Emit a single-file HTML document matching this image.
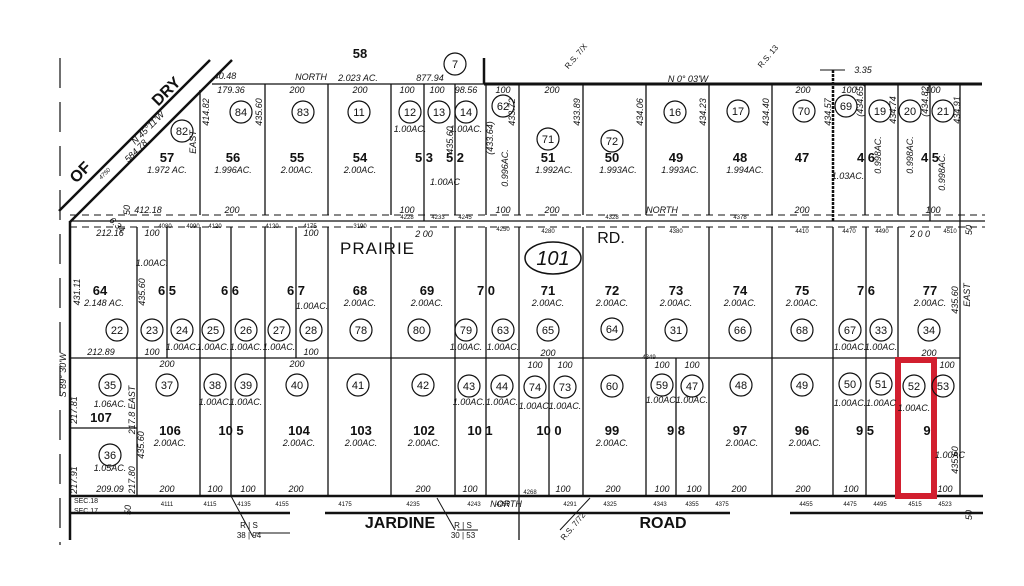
<!DOCTYPE html>
<html><head><meta charset="utf-8">
<style>
html,body{margin:0;padding:0;background:#fff;}
svg{display:block;}
text{font-family:"Liberation Sans",sans-serif;fill:#111;}
.n{font-size:13px;font-weight:bold;text-anchor:middle;}
.a{font-size:9px;font-style:italic;text-anchor:middle;}
.s{font-size:9px;font-style:italic;text-anchor:middle;}
.t{font-size:6px;text-anchor:middle;}
.c{font-size:11px;text-anchor:middle;}
.r{font-size:16px;font-weight:bold;text-anchor:middle;}
</style></head><body>
<svg width="1024" height="586" viewBox="0 0 1024 586" xmlns="http://www.w3.org/2000/svg">
<rect width="1024" height="586" fill="#fff"/>
<g stroke="#111" fill="none">
<line x1="60" y1="58" x2="60" y2="545" stroke-width="1.2" stroke-dasharray="30,14"/>
<line x1="59" y1="211" x2="210" y2="60" stroke-width="2.5"/>
<line x1="70" y1="222" x2="232" y2="60" stroke-width="2.5"/>
<line x1="212" y1="84" x2="484" y2="84" stroke-width="1.2"/>
<line x1="484" y1="84" x2="982" y2="84" stroke-width="3"/>
<line x1="484" y1="58" x2="484" y2="84" stroke-width="2.5"/>
<line x1="820" y1="70" x2="845" y2="70" stroke-width="1"/>
<line x1="70" y1="215" x2="985" y2="215" stroke-width="1" stroke-dasharray="7,5"/>
<line x1="70" y1="221" x2="985" y2="221" stroke-width="1.3"/>
<line x1="70" y1="227" x2="985" y2="227" stroke-width="1" stroke-dasharray="7,5"/>
<line x1="70" y1="221" x2="70" y2="540" stroke-width="2.5"/>
<line x1="960" y1="84" x2="960" y2="496" stroke-width="1.3"/>
<g stroke-width="1.3">
<line x1="200" y1="90" x2="200" y2="215"/>
<line x1="265" y1="84" x2="265" y2="215"/>
<line x1="328" y1="84" x2="328" y2="215"/>
<line x1="391" y1="84" x2="391" y2="215"/>
<line x1="424" y1="84" x2="424" y2="221"/>
<line x1="455" y1="84" x2="455" y2="215"/>
<line x1="486" y1="84" x2="486" y2="215"/>
<line x1="519" y1="84" x2="519" y2="215"/>
<line x1="583" y1="84" x2="583" y2="215"/>
<line x1="646" y1="84" x2="646" y2="215"/>
<line x1="709" y1="84" x2="709" y2="215"/>
<line x1="772" y1="84" x2="772" y2="215"/>
<line x1="833" y1="70" x2="833" y2="221" stroke-width="2.5" stroke-dasharray="3,1"/>
<line x1="865" y1="84" x2="865" y2="215"/>
<line x1="898" y1="84" x2="898" y2="215"/>
<line x1="930" y1="84" x2="930" y2="221"/>
</g>
<g stroke-width="1.3">
<line x1="137" y1="227" x2="137" y2="496"/>
<line x1="167" y1="227" x2="167" y2="358"/>
<line x1="200" y1="227" x2="200" y2="496"/>
<line x1="231" y1="227" x2="231" y2="496"/>
<line x1="265" y1="227" x2="265" y2="496"/>
<line x1="296" y1="227" x2="296" y2="358"/>
<line x1="328" y1="227" x2="328" y2="496"/>
<line x1="391" y1="227" x2="391" y2="496"/>
<line x1="455" y1="227" x2="455" y2="496"/>
<line x1="486" y1="227" x2="486" y2="496"/>
<line x1="519" y1="227" x2="519" y2="540"/>
<line x1="549" y1="358" x2="549" y2="496"/>
<line x1="583" y1="227" x2="583" y2="496"/>
<line x1="646" y1="227" x2="646" y2="496"/>
<line x1="676" y1="358" x2="676" y2="496"/>
<line x1="709" y1="227" x2="709" y2="496"/>
<line x1="772" y1="227" x2="772" y2="496"/>
<line x1="833" y1="227" x2="833" y2="496"/>
<line x1="866" y1="227" x2="866" y2="496"/>
<line x1="898" y1="227" x2="898" y2="358"/>
</g>
<line x1="70" y1="358" x2="960" y2="358" stroke-width="1.3"/>
<line x1="70" y1="428" x2="137" y2="428" stroke-width="1.2"/>
<line x1="70" y1="496" x2="983" y2="496" stroke-width="2.5"/>
<line x1="70" y1="513" x2="290" y2="513" stroke-width="2.5"/>
<line x1="325" y1="513" x2="730" y2="513" stroke-width="2.5"/>
<line x1="790" y1="513" x2="983" y2="513" stroke-width="2.5"/>
<line x1="231" y1="496" x2="253" y2="537" stroke-width="1"/>
<line x1="437" y1="498" x2="455" y2="530" stroke-width="1"/>
<line x1="590" y1="498" x2="560" y2="530" stroke-width="1"/>
<line x1="256" y1="533" x2="290" y2="533" stroke-width="1"/>
<line x1="457" y1="530" x2="478" y2="530" stroke-width="1"/>
<ellipse cx="553" cy="258" rx="28" ry="16" stroke-width="1.5"/>
<rect x="898" y="360" width="36" height="136" stroke="#d21f2f" stroke-width="6"/>
</g>
<g fill="none" stroke="#111" stroke-width="1.2">
<circle cx="241" cy="112" r="11"/><circle cx="303" cy="112" r="11"/><circle cx="359" cy="112" r="11"/>
<circle cx="410" cy="112" r="11"/><circle cx="439" cy="112" r="11"/><circle cx="466" cy="112" r="11"/>
<circle cx="503" cy="106" r="11"/><circle cx="455" cy="64" r="11"/><circle cx="182" cy="131" r="11"/>
<circle cx="548" cy="139" r="11"/><circle cx="612" cy="141" r="11"/><circle cx="675" cy="112" r="11"/>
<circle cx="738" cy="111" r="11"/><circle cx="804" cy="111" r="11"/><circle cx="846" cy="106" r="11"/>
<circle cx="880" cy="111" r="11"/><circle cx="910" cy="111" r="11"/><circle cx="943" cy="111" r="11"/>
<circle cx="117" cy="330" r="11"/><circle cx="152" cy="330" r="11"/><circle cx="182" cy="330" r="11"/>
<circle cx="213" cy="330" r="11"/><circle cx="246" cy="330" r="11"/><circle cx="279" cy="330" r="11"/>
<circle cx="311" cy="330" r="11"/><circle cx="361" cy="330" r="11"/><circle cx="419" cy="330" r="11"/>
<circle cx="466" cy="330" r="11"/><circle cx="503" cy="330" r="11"/><circle cx="548" cy="330" r="11"/>
<circle cx="612" cy="329" r="11"/><circle cx="676" cy="330" r="11"/><circle cx="740" cy="330" r="11"/>
<circle cx="802" cy="330" r="11"/><circle cx="850" cy="330" r="11"/><circle cx="881" cy="330" r="11"/>
<circle cx="929" cy="330" r="11"/>
<circle cx="110" cy="385" r="11"/><circle cx="167" cy="385" r="11"/><circle cx="215" cy="385" r="11"/>
<circle cx="246" cy="385" r="11"/><circle cx="297" cy="385" r="11"/><circle cx="358" cy="385" r="11"/>
<circle cx="423" cy="385" r="11"/><circle cx="469" cy="386" r="11"/><circle cx="502" cy="386" r="11"/>
<circle cx="535" cy="387" r="11"/><circle cx="565" cy="387" r="11"/><circle cx="612" cy="386" r="11"/>
<circle cx="662" cy="385" r="11"/><circle cx="692" cy="386" r="11"/><circle cx="741" cy="385" r="11"/>
<circle cx="802" cy="385" r="11"/><circle cx="850" cy="384" r="11"/><circle cx="881" cy="384" r="11"/>
<circle cx="914" cy="386" r="11"/><circle cx="943" cy="386" r="11"/><circle cx="110" cy="455" r="11"/>
</g>
<g class="c">
<text x="241" y="116" class="c">84</text><text x="303" y="116" class="c">83</text><text x="359" y="116" class="c">11</text>
<text x="410" y="116" class="c">12</text><text x="439" y="116" class="c">13</text><text x="466" y="116" class="c">14</text>
<text x="503" y="110" class="c">62</text><text x="455" y="68" class="c">7</text><text x="182" y="135" class="c">82</text>
<text x="548" y="143" class="c">71</text><text x="612" y="145" class="c">72</text><text x="675" y="116" class="c">16</text>
<text x="738" y="115" class="c">17</text><text x="804" y="115" class="c">70</text><text x="846" y="110" class="c">69</text>
<text x="880" y="115" class="c">19</text><text x="910" y="115" class="c">20</text><text x="943" y="115" class="c">21</text>
<text x="117" y="334" class="c">22</text><text x="152" y="334" class="c">23</text><text x="182" y="334" class="c">24</text>
<text x="213" y="334" class="c">25</text><text x="246" y="334" class="c">26</text><text x="279" y="334" class="c">27</text>
<text x="311" y="334" class="c">28</text><text x="361" y="334" class="c">78</text><text x="419" y="334" class="c">80</text>
<text x="466" y="334" class="c">79</text><text x="503" y="334" class="c">63</text><text x="548" y="334" class="c">65</text>
<text x="612" y="333" class="c">64</text><text x="676" y="334" class="c">31</text><text x="740" y="334" class="c">66</text>
<text x="802" y="334" class="c">68</text><text x="850" y="334" class="c">67</text><text x="881" y="334" class="c">33</text>
<text x="929" y="334" class="c">34</text>
<text x="110" y="389" class="c">35</text><text x="167" y="389" class="c">37</text><text x="215" y="389" class="c">38</text>
<text x="246" y="389" class="c">39</text><text x="297" y="389" class="c">40</text><text x="358" y="389" class="c">41</text>
<text x="423" y="389" class="c">42</text><text x="469" y="390" class="c">43</text><text x="502" y="390" class="c">44</text>
<text x="535" y="391" class="c">74</text><text x="565" y="391" class="c">73</text><text x="612" y="390" class="c">60</text>
<text x="662" y="389" class="c">59</text><text x="692" y="390" class="c">47</text><text x="741" y="389" class="c">48</text>
<text x="802" y="389" class="c">49</text><text x="850" y="388" class="c">50</text><text x="881" y="388" class="c">51</text>
<text x="914" y="390" class="c">52</text><text x="943" y="390" class="c">53</text><text x="110" y="459" class="c">36</text>
</g>
<g>
<text x="167" y="162" class="n">57</text><text x="167" y="173" class="a">1.972 AC.</text>
<text x="233" y="162" class="n">56</text><text x="233" y="173" class="a">1.996AC.</text>
<text x="297" y="162" class="n">55</text><text x="297" y="173" class="a">2.00AC.</text>
<text x="360" y="162" class="n">54</text><text x="360" y="173" class="a">2.00AC.</text>
<text x="424" y="162" class="n">5 3</text><text x="455" y="162" class="n">5 2</text>
<text x="548" y="162" class="n">51</text><text x="554" y="173" class="a">1.992AC.</text>
<text x="612" y="162" class="n">50</text><text x="618" y="173" class="a">1.993AC.</text>
<text x="676" y="162" class="n">49</text><text x="680" y="173" class="a">1.993AC.</text>
<text x="740" y="162" class="n">48</text><text x="745" y="173" class="a">1.994AC.</text>
<text x="802" y="162" class="n">47</text>
<text x="866" y="162" class="n">4 6</text><text x="930" y="162" class="n">4 5</text>
<text x="100" y="295" class="n">64</text><text x="104" y="306" class="a">2.148 AC.</text>
<text x="167" y="295" class="n">6 5</text><text x="230" y="295" class="n">6 6</text><text x="296" y="295" class="n">6 7</text>
<text x="360" y="295" class="n">68</text><text x="360" y="306" class="a">2.00AC.</text>
<text x="427" y="295" class="n">69</text><text x="427" y="306" class="a">2.00AC.</text>
<text x="486" y="295" class="n">7 0</text>
<text x="548" y="295" class="n">71</text><text x="548" y="306" class="a">2.00AC.</text>
<text x="612" y="295" class="n">72</text><text x="612" y="306" class="a">2.00AC.</text>
<text x="676" y="295" class="n">73</text><text x="676" y="306" class="a">2.00AC.</text>
<text x="740" y="295" class="n">74</text><text x="740" y="306" class="a">2.00AC.</text>
<text x="802" y="295" class="n">75</text><text x="802" y="306" class="a">2.00AC.</text>
<text x="866" y="295" class="n">7 6</text>
<text x="930" y="295" class="n">77</text><text x="930" y="306" class="a">2.00AC.</text>
<text x="101" y="422" class="n">107</text>
<text x="170" y="435" class="n">106</text><text x="170" y="446" class="a">2.00AC.</text>
<text x="231" y="435" class="n">10 5</text>
<text x="299" y="435" class="n">104</text><text x="299" y="446" class="a">2.00AC.</text>
<text x="361" y="435" class="n">103</text><text x="361" y="446" class="a">2.00AC.</text>
<text x="424" y="435" class="n">102</text><text x="424" y="446" class="a">2.00AC.</text>
<text x="480" y="435" class="n">10 1</text><text x="549" y="435" class="n">10 0</text>
<text x="612" y="435" class="n">99</text><text x="612" y="446" class="a">2.00AC.</text>
<text x="676" y="435" class="n">9 8</text>
<text x="740" y="435" class="n">97</text><text x="742" y="446" class="a">2.00AC.</text>
<text x="802" y="435" class="n">96</text><text x="805" y="446" class="a">2.00AC.</text>
<text x="865" y="435" class="n">9  5</text><text x="927" y="435" class="n">9</text>
</g>
<g class="s">
<text x="410" y="132">1.00AC.</text><text x="466" y="132">1.00AC.</text><text x="445" y="185">1.00AC</text>
<text x="848" y="179">1.03AC.</text><text x="152" y="266">1.00AC.</text><text x="312" y="309">1.00AC.</text>
<text x="182" y="350">1.00AC.</text><text x="213" y="350">1.00AC.</text><text x="246" y="350">1.00AC.</text>
<text x="279" y="350">1.00AC.</text><text x="466" y="350">1.00AC.</text><text x="503" y="350">1.00AC.</text>
<text x="850" y="350">1.00AC.</text><text x="881" y="350">1.00AC.</text>
<text x="110" y="407">1.06AC.</text><text x="215" y="405">1.00AC.</text><text x="246" y="405">1.00AC.</text>
<text x="469" y="405">1.00AC.</text><text x="502" y="405">1.00AC.</text><text x="535" y="409">1.00AC.</text>
<text x="565" y="409">1.00AC.</text><text x="662" y="403">1.00AC.</text><text x="692" y="403">1.00AC.</text>
<text x="850" y="406">1.00AC.</text><text x="881" y="406">1.00AC</text><text x="914" y="411">1.00AC.</text>
<text x="950" y="458">1.00AC</text><text x="110" y="471">1.05AC.</text>
</g>
<g class="s">
<text x="231" y="93">179.36</text><text x="297" y="93">200</text><text x="360" y="93">200</text>
<text x="407" y="93">100</text><text x="437" y="93">100</text><text x="466" y="93">98.56</text>
<text x="503" y="93">100</text><text x="552" y="93">200</text><text x="803" y="93">200</text>
<text x="849" y="93">100</text><text x="933" y="93">100</text><text x="311" y="80">NORTH</text>
<text x="430" y="81">877.94</text><text x="225" y="79">40.48</text><text x="688" y="82">N 0° 03'W</text>
<text x="358" y="81" class="s">2.023 AC.</text><text x="863" y="73">3.35</text>
<text x="148" y="213">412.18</text><text x="232" y="213">200</text><text x="407" y="213">100</text>
<text x="552" y="213">200</text><text x="662" y="213">NORTH</text><text x="802" y="213">200</text>
<text x="933" y="213">100</text><text x="503" y="213">100</text>
<text x="110" y="236">212.16</text><text x="152" y="236">100</text><text x="311" y="236">100</text>
<text x="424" y="237">2 00</text><text x="920" y="237">2 0 0</text>
<text x="101" y="355">212.89</text><text x="152" y="355">100</text><text x="311" y="355">100</text>
<text x="548" y="356">200</text><text x="929" y="356">200</text>
<text x="167" y="367">200</text><text x="297" y="367">200</text><text x="535" y="368">100</text>
<text x="565" y="368">100</text><text x="662" y="368">100</text><text x="692" y="368">100</text>
<text x="947" y="368">100</text>
<text x="110" y="492">209.09</text><text x="167" y="492">200</text><text x="215" y="492">100</text>
<text x="248" y="492">100</text><text x="296" y="492">200</text><text x="423" y="492">200</text>
<text x="470" y="492">100</text><text x="563" y="492">100</text><text x="613" y="492">200</text>
<text x="662" y="492">100</text><text x="694" y="492">100</text><text x="739" y="492">200</text>
<text x="803" y="492">200</text><text x="851" y="492">100</text><text x="945" y="492">100</text>
<text x="506" y="507">NORTH</text>
</g>
<g class="s">
<text transform="translate(209,112) rotate(-90)">414.82</text>
<text transform="translate(262,112) rotate(-90)">435.60</text>
<text transform="translate(453,140) rotate(-90)">435.60</text>
<text transform="translate(493,138) rotate(-90)">(433.64)</text>
<text transform="translate(515,112) rotate(-90)">433.72</text>
<text transform="translate(508,168) rotate(-90)">0.996AC.</text>
<text transform="translate(580,112) rotate(-90)">433.89</text>
<text transform="translate(643,112) rotate(-90)">434.06</text>
<text transform="translate(706,112) rotate(-90)">434.23</text>
<text transform="translate(769,112) rotate(-90)">434.40</text>
<text transform="translate(831,112) rotate(-90)">434.57</text>
<text transform="translate(863,100) rotate(-90)">(434.65)</text>
<text transform="translate(881,155) rotate(-90)">0.998AC.</text>
<text transform="translate(896,110) rotate(-90)">434.74</text>
<text transform="translate(913,155) rotate(-90)">0.998AC.</text>
<text transform="translate(928,100) rotate(-90)">(434.82)</text>
<text transform="translate(945,172) rotate(-90)">0.998AC.</text>
<text transform="translate(960,110) rotate(-90)">434.91</text>
<text transform="translate(196,142) rotate(-90)">EAST</text>
<text transform="translate(80,292) rotate(-90)">431.11</text>
<text transform="translate(145,292) rotate(-90)">435.60</text>
<text transform="translate(958,300) rotate(-90)">435.60</text>
<text transform="translate(970,295) rotate(-90)">EAST</text>
<text transform="translate(66,375) rotate(-90)">S 89° 30'W</text>
<text transform="translate(77,410) rotate(-90)">217.81</text>
<text transform="translate(77,480) rotate(-90)">217.91</text>
<text transform="translate(135,410) rotate(-90)">217.8 EAST</text>
<text transform="translate(135,480) rotate(-90)">217.80</text>
<text transform="translate(144,445) rotate(-90)">435.60</text>
<text transform="translate(958,460) rotate(-90)">435.60</text>
<text transform="translate(972,230) rotate(-90)">50</text>
<text transform="translate(972,515) rotate(-90)">50</text>
<text transform="translate(131,510) rotate(-90)">50</text>
<text transform="translate(130,210) rotate(-90)">50</text>
<text transform="translate(150,130) rotate(-45)">N 45°11'W</text>
<text transform="translate(138,153) rotate(-45)">584.78</text>
<text transform="translate(106,175) rotate(-45)" class="t">4750</text>
<text transform="translate(115,227) rotate(45)">6.34</text>
</g>
<text transform="translate(84,176) rotate(-45)" style="font-size:16px;font-weight:bold;text-anchor:middle">OF</text>
<text transform="translate(170,95) rotate(-45)" style="font-size:16px;font-weight:bold;text-anchor:middle">DRY</text>
<text x="340" y="254" style="font-size:17px;letter-spacing:1px">PRAIRIE</text>
<text x="611" y="243" style="font-size:16px;text-anchor:middle">RD.</text>
<text x="553" y="265" style="font-size:20px;font-style:italic;text-anchor:middle">101</text>
<text x="360" y="58" class="n">58</text>
<text x="400" y="528" class="r">JARDINE</text>
<text x="663" y="528" class="r">ROAD</text>
<text x="86" y="503" class="t" style="font-size:7px">SEC.18</text>
<text x="86" y="513" class="t" style="font-size:7px">SEC.17</text>
<g class="t">
<text x="165" y="228">4080</text><text x="193" y="228">4090</text><text x="215" y="228">4120</text>
<text x="272" y="228">4120</text><text x="310" y="228">4175</text><text x="360" y="228">3190</text>
<text x="407" y="219">4228</text><text x="438" y="219">4233</text><text x="465" y="219">4245</text>
<text x="503" y="231">4250</text><text x="548" y="233">4280</text><text x="612" y="219">4328</text>
<text x="676" y="233">4380</text><text x="740" y="219">4378</text><text x="802" y="233">4410</text>
<text x="849" y="233">4470</text><text x="882" y="233">4490</text><text x="950" y="233">4510</text>
<text x="167" y="506">4111</text><text x="210" y="506">4115</text><text x="244" y="506">4135</text>
<text x="282" y="506">4155</text><text x="345" y="506">4175</text><text x="413" y="506">4235</text>
<text x="474" y="506">4243</text><text x="503" y="506">4255</text><text x="530" y="494">4268</text>
<text x="570" y="506">4291</text><text x="610" y="506">4325</text><text x="660" y="506">4343</text>
<text x="692" y="506">4355</text><text x="722" y="506">4375</text><text x="806" y="506">4455</text>
<text x="850" y="506">4475</text><text x="880" y="506">4495</text><text x="915" y="506">4515</text>
<text x="945" y="506">4523</text><text x="649" y="359">4349</text>
</g>
<g class="t" style="font-size:8px">
<text x="249" y="528">R | S</text><text x="249" y="538">38 | 94</text>
<text x="463" y="528">R | S</text><text x="463" y="538">30 | 53</text>
<text transform="translate(575,528) rotate(-50)">R.S. 7/72</text>
<text transform="translate(578,58) rotate(-50)">R.S. 7/X</text>
<text transform="translate(770,58) rotate(-50)">R.S. 13</text>
</g>
</svg>
</body></html>
